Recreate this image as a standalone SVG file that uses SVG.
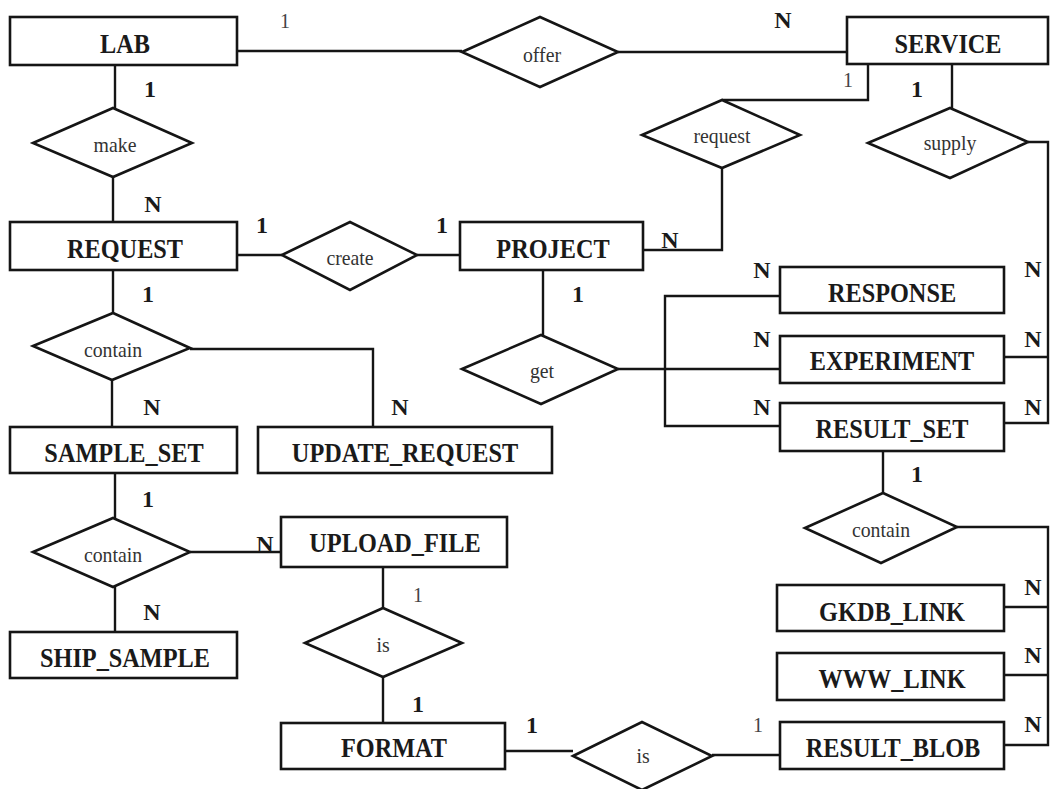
<svg xmlns="http://www.w3.org/2000/svg" width="1051" height="789" viewBox="0 0 1051 789">
  <style>
    .ent rect { fill: #fff; stroke: #151515; stroke-width: 2.6; }
    .rel polygon { fill: #fff; stroke: #151515; stroke-width: 2.6; stroke-linejoin: miter; }
    .ent text { font-family: "Liberation Serif", "Times New Roman", serif; font-weight: bold; font-size: 27px; fill: #1a1a1a; text-anchor: middle; }
    .rel text { font-family: "Liberation Serif", "Times New Roman", serif; font-size: 22px; fill: #333; text-anchor: middle; }
    #connectors path { fill: none; stroke: #151515; stroke-width: 2.4; }
    .card { font-family: "Liberation Serif", "Times New Roman", serif; font-weight: bold; font-size: 24px; fill: #1a1a1a; text-anchor: middle; }
    .card.light { font-weight: normal; fill: #444; font-size: 20px; }
  </style>
  <rect width="1051" height="789" fill="#fff"/>

  <!-- relationship lines -->
  <g id="connectors">
    <path d="M237 51 H462"/>
    <path d="M618 52 H847"/>
    <path d="M115 65 V108"/>
    <path d="M113 177 V222"/>
    <path d="M237 255 H282"/>
    <path d="M417 255 H460"/>
    <path d="M643 250 H722 V168"/>
    <path d="M722 100 H868 V64"/>
    <path d="M952 64 V108"/>
    <path d="M1028 142 H1048 V423 H1004"/>
    <path d="M1004 357 H1048"/>
    <path d="M543 270 V335"/>
    <path d="M618 369 H780"/>
    <path d="M780 296 H665 V426 H780"/>
    <path d="M113 270 V313"/>
    <path d="M112 380 V427"/>
    <path d="M190 349 H373 V427"/>
    <path d="M115 473 V518"/>
    <path d="M115 587 V632"/>
    <path d="M190 552 H281"/>
    <path d="M383 567 V608"/>
    <path d="M383 677 V723"/>
    <path d="M505 751 H573"/>
    <path d="M712 755 H780"/>
    <path d="M883 451 V493"/>
    <path d="M957 527 H1048 V745 H1004"/>
    <path d="M1004 607 H1048"/>
    <path d="M1004 675 H1048"/>
  </g>

  <!-- entities -->
  <g id="lab" class="ent"><rect x="10" y="17" width="227" height="48"/><text transform="translate(125 53) scale(0.9 1)">LAB</text></g>
  <g id="service" class="ent"><rect x="847" y="17" width="201" height="47"/><text transform="translate(948 53) scale(0.9 1)">SERVICE</text></g>
  <g id="request-ent" class="ent"><rect x="10" y="222" width="227" height="48"/><text transform="translate(125 258) scale(0.9 1)">REQUEST</text></g>
  <g id="project" class="ent"><rect x="460" y="222" width="183" height="48"/><text transform="translate(553 258) scale(0.9 1)">PROJECT</text></g>
  <g id="sample-set" class="ent"><rect x="10" y="427" width="227" height="46"/><text transform="translate(124 462) scale(0.9 1)">SAMPLE_SET</text></g>
  <g id="update-request" class="ent"><rect x="258" y="427" width="294" height="46"/><text transform="translate(405 462) scale(0.9 1)">UPDATE_REQUEST</text></g>
  <g id="ship-sample" class="ent"><rect x="10" y="632" width="227" height="46"/><text transform="translate(125 667) scale(0.9 1)">SHIP_SAMPLE</text></g>
  <g id="upload-file" class="ent"><rect x="281" y="517" width="226" height="50"/><text transform="translate(395 552) scale(0.9 1)">UPLOAD_FILE</text></g>
  <g id="format" class="ent"><rect x="281" y="723" width="224" height="46"/><text transform="translate(394 757) scale(0.9 1)">FORMAT</text></g>
  <g id="response" class="ent"><rect x="780" y="267" width="224" height="46"/><text transform="translate(892 302) scale(0.9 1)">RESPONSE</text></g>
  <g id="experiment" class="ent"><rect x="780" y="336" width="224" height="47"/><text transform="translate(892 370) scale(0.9 1)">EXPERIMENT</text></g>
  <g id="result-set" class="ent"><rect x="780" y="403" width="224" height="48"/><text transform="translate(892 438) scale(0.9 1)">RESULT_SET</text></g>
  <g id="gkdb-link" class="ent"><rect x="777" y="585" width="227" height="46"/><text transform="translate(892 621) scale(0.9 1)">GKDB_LINK</text></g>
  <g id="www-link" class="ent"><rect x="777" y="653" width="227" height="47"/><text transform="translate(892 688) scale(0.9 1)">WWW_LINK</text></g>
  <g id="result-blob" class="ent"><rect x="780" y="722" width="224" height="47"/><text transform="translate(893 757) scale(0.9 1)">RESULT_BLOB</text></g>

  <!-- relationships -->
  <g id="offer" class="rel"><polygon points="462,52 540,17 618,52 540,87"/><text transform="translate(542 62) scale(0.9 1)">offer</text></g>
  <g id="make" class="rel"><polygon points="33,143 113,108 192,143 113,177"/><text transform="translate(115 152) scale(0.9 1)">make</text></g>
  <g id="request-rel" class="rel"><polygon points="642,135 722,100 800,135 722,168"/><text transform="translate(722 143) scale(0.9 1)">request</text></g>
  <g id="supply" class="rel"><polygon points="868,143 950,108 1028,142 950,178"/><text transform="translate(950 150) scale(0.9 1)">supply</text></g>
  <g id="create" class="rel"><polygon points="282,255 350,222 417,255 350,290"/><text transform="translate(350 265) scale(0.9 1)">create</text></g>
  <g id="contain-request" class="rel"><polygon points="33,346 113,313 190,348 112,380"/><text transform="translate(113 357) scale(0.9 1)">contain</text></g>
  <g id="get" class="rel"><polygon points="462,369 541,335 618,369 541,404"/><text transform="translate(542 378) scale(0.9 1)">get</text></g>
  <g id="contain-sample" class="rel"><polygon points="33,552 113,518 190,552 113,587"/><text transform="translate(113 562) scale(0.9 1)">contain</text></g>
  <g id="is-upload" class="rel"><polygon points="305,643 383,608 462,643 383,677"/><text transform="translate(383 652) scale(0.9 1)">is</text></g>
  <g id="is-format" class="rel"><polygon points="573,756 642,722 712,756 642,790"/><text transform="translate(643 763) scale(0.9 1)">is</text></g>
  <g id="contain-result" class="rel"><polygon points="805,528 883,493 957,527 881,563"/><text transform="translate(881 537) scale(0.9 1)">contain</text></g>

  <!-- cardinalities -->
  <g id="cardinalities">
    <text class="card light" x="285" y="28">1</text>
    <text class="card" x="783" y="28">N</text>
    <text class="card" x="150" y="97">1</text>
    <text class="card" x="153" y="212">N</text>
    <text class="card light" x="848" y="87" font-size="17">1</text>
    <text class="card" x="917" y="97">1</text>
    <text class="card" x="262" y="233">1</text>
    <text class="card" x="442" y="233">1</text>
    <text class="card" x="670" y="248">N</text>
    <text class="card" x="578" y="302">1</text>
    <text class="card" x="148" y="302">1</text>
    <text class="card" x="152" y="415">N</text>
    <text class="card" x="400" y="415">N</text>
    <text class="card" x="148" y="507">1</text>
    <text class="card" x="265" y="552">N</text>
    <text class="card" x="152" y="620">N</text>
    <text class="card light" x="418" y="602">1</text>
    <text class="card" x="418" y="712">1</text>
    <text class="card" x="532" y="733">1</text>
    <text class="card light" x="758" y="732">1</text>
    <text class="card" x="762" y="278">N</text>
    <text class="card" x="762" y="347">N</text>
    <text class="card" x="762" y="415">N</text>
    <text class="card" x="1033" y="277">N</text>
    <text class="card" x="1033" y="347">N</text>
    <text class="card" x="1033" y="415">N</text>
    <text class="card" x="917" y="482">1</text>
    <text class="card" x="1033" y="595">N</text>
    <text class="card" x="1033" y="663">N</text>
    <text class="card" x="1033" y="732">N</text>
  </g>
</svg>
